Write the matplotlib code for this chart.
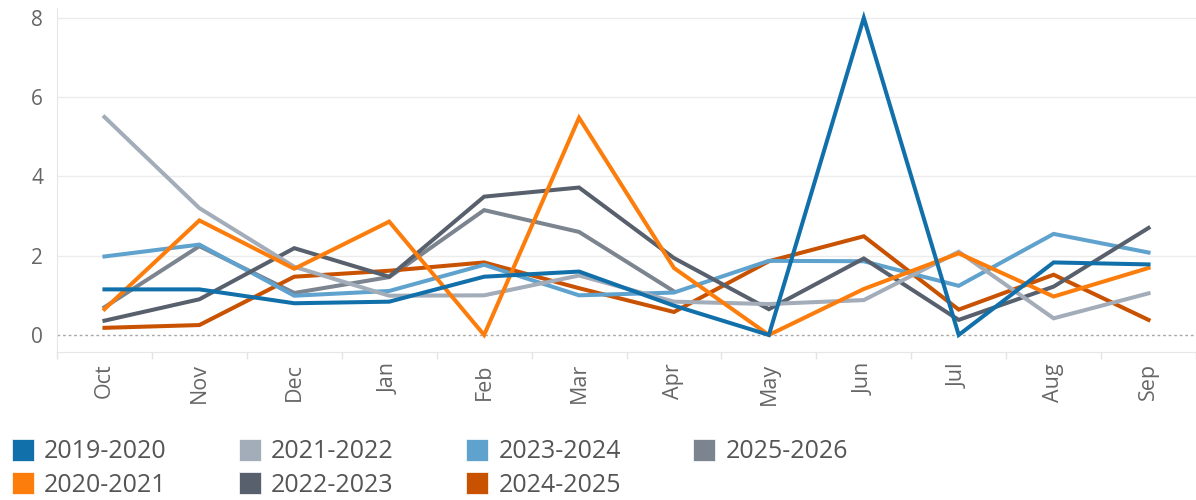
import matplotlib
matplotlib.use("Agg")
import matplotlib.pyplot as plt
import matplotlib.patches as mpatches
import numpy as np

plt.rcParams['font.family'] = ['Open Sans', 'DejaVu Sans']

months = ['Oct', 'Nov', 'Dec', 'Jan', 'Feb', 'Mar', 'Apr', 'May', 'Jun', 'Jul', 'Aug', 'Sep']

# values per season
s_2019_2020 = [1.15, 1.15, 0.80, 0.84, 1.47, 1.60, 0.74, 0.00, 8.00, 0.00, 1.83, 1.78]
s_2020_2021 = [0.65, 2.89, 1.67, 2.86, 0.00, 5.48, 1.69, 0.00, 1.16, 2.06, 0.97, 1.69]
s_2021_2022 = [5.50, 3.20, 1.72, 0.99, 1.00, 1.50, 0.84, 0.78, 0.88, 2.10, 0.42, 1.05]
s_2022_2023 = [0.36, 0.90, 2.19, 1.47, 3.49, 3.72, 1.94, 0.65, 1.93, 0.38, 1.22, 2.70]
s_2023_2024 = [1.98, 2.28, 0.99, 1.11, 1.77, 1.00, 1.07, 1.87, 1.86, 1.24, 2.55, 2.08]
s_2024_2025 = [0.18, 0.25, 1.47, 1.62, 1.83, 1.18, 0.58, 1.86, 2.49, 0.64, 1.52, 0.38]
s_2025_2026 = [0.70, 2.24, 1.06, 1.46, 3.15, 2.60, 1.10]

seasons = ['2019-2020', '2020-2021', '2021-2022', '2022-2023',
           '2023-2024', '2024-2025', '2025-2026']
series = [s_2019_2020, s_2020_2021, s_2021_2022, s_2022_2023,
          s_2023_2024, s_2024_2025, s_2025_2026]
colors = ['#1170aa', '#fc7d0b', '#a3acb9', '#57606c',
          '#5fa2ce', '#c85200', '#7b848f']

fig = plt.figure(figsize=(11.96, 5.0), dpi=100)
ax = fig.add_axes([57 / 1196, 1 - 352 / 500, 1 - 57 / 1196, (352 - 8) / 500])

# draw order: later seasons under, 2019-2020 on top
order = [5, 6, 4, 3, 2, 1, 0]
for i in order:
    vals = series[i]
    ax.plot(np.arange(len(vals)), vals, color=colors[i], lw=2.9,
            solid_joinstyle='miter', zorder=3 + (6 - i) * 0.1)

ax.set_xlim(-0.5, 11.39)
ax.set_ylim(-0.43, 8.25)

ax.set_yticks([0, 2, 4, 6, 8])
ax.set_xticks(np.arange(12))
ax.set_xticklabels(months, rotation=90, va='top', ha='center')
ax.set_xticks(np.arange(-0.5, 12, 1), minor=True)

ax.tick_params(axis='y', length=0, pad=10, labelsize=15, labelcolor='#666666')
ax.tick_params(axis='x', which='major', length=0, pad=8, labelsize=15.5,
               labelcolor='#666666')
ax.tick_params(axis='x', which='minor', length=5, width=1, color='#e3e3e3')

for y in [2, 4, 6, 8]:
    ax.axhline(y, color='#ececec', lw=1, zorder=1)
ax.axhline(0, color='#a8a8a8', lw=1, ls=(0, (2, 2)), zorder=2)

for side in ['top', 'right']:
    ax.spines[side].set_visible(False)
ax.spines['left'].set_color('#e6e6e6')
ax.spines['bottom'].set_color('#e6e6e6')

handles = [mpatches.Patch(facecolor=c, edgecolor='white', lw=0.5) for c in colors]
fig.legend(handles, seasons, loc='upper left', bbox_to_anchor=(12 / 1196, 1 - 439 / 500),
           ncol=4, frameon=False, fontsize=18, labelcolor='#555555',
           handlelength=0.88, handleheight=0.95, handletextpad=0.4,
           columnspacing=2.9, labelspacing=0.32, borderpad=0, borderaxespad=0)

fig.savefig('out.png', dpi=100)
